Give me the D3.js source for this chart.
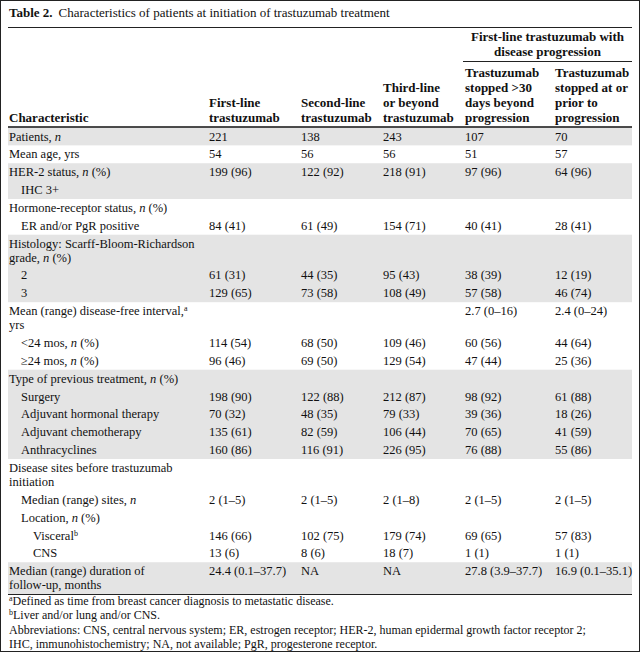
<!DOCTYPE html>
<html>
<head>
<meta charset="utf-8">
<script src="https://cdn.jsdelivr.net/npm/d3@7"></script>
<style>
  body { margin: 0; background: #fff; }
  svg { display: block; }
  text { font-family: "Liberation Serif", "Times New Roman", serif; fill: #111; }
</style>
</head>
<body>
<div id="table"></div>
<script>
var svgWidth = 640;
var svgHeight = 652;

// table content
var titleBold = "Table 2.";
var titleText = "Characteristics of patients at initiation of trastuzumab treatment";
var spannerHead = ["First-line trastuzumab with", "disease progression"];
var columnHeads = [
    ["Characteristic"],
    ["First-line", "trastuzumab"],
    ["Second-line", "trastuzumab"],
    ["Third-line", "or beyond", "trastuzumab"],
    ["Trastuzumab", "stopped >30", "days beyond", "progression"],
    ["Trastuzumab", "stopped at or", "prior to", "progression"]
];
var rowLabels = [
    "Patients, *n*",
    "Mean age, yrs",
    "HER-2 status, *n* (%)",
    "IHC 3+",
    "Hormone-receptor status, *n* (%)",
    "ER and/or PgR positive",
    "Histology: Scarff-Bloom-Richardson|grade, *n* (%)",
    "2",
    "3",
    "Mean (range) disease-free interval,^a^|yrs",
    "<24 mos, *n* (%)",
    "≥24 mos, *n* (%)",
    "Type of previous treatment, *n* (%)",
    "Surgery",
    "Adjuvant hormonal therapy",
    "Adjuvant chemotherapy",
    "Anthracyclines",
    "Disease sites before trastuzumab|initiation",
    "Median (range) sites, *n*",
    "Location, *n* (%)",
    "Visceral^b^",
    "CNS",
    "Median (range) duration of|follow-up, months"
];
var rowIndent = [0,0,0,1,0,1,0,1,1,0,1,1,0,1,1,1,1,0,1,1,2,2,0];
var rowGroup  = [0,1,2,2,3,3,4,4,4,5,5,5,6,6,6,6,6,7,7,7,7,7,8];

var firstLine = ["221","54","199 (96)","","","84 (41)","","61 (31)","129 (65)","","114 (54)","96 (46)","",
    "198 (90)","70 (32)","135 (61)","160 (86)","","2 (1–5)","","146 (66)","13 (6)","24.4 (0.1–37.7)"];
var secondLine = ["138","56","122 (92)","","","61 (49)","","44 (35)","73 (58)","","68 (50)","69 (50)","",
    "122 (88)","48 (35)","82 (59)","116 (91)","","2 (1–5)","","102 (75)","8 (6)","NA"];
var thirdLine = ["243","56","218 (91)","","","154 (71)","","95 (43)","108 (49)","","109 (46)","129 (54)","",
    "212 (87)","79 (33)","106 (44)","226 (95)","","2 (1–8)","","179 (74)","18 (7)","NA"];
var stoppedAfter = ["107","51","97 (96)","","","40 (41)","","38 (39)","57 (58)","2.7 (0–16)","60 (56)","47 (44)","",
    "98 (92)","39 (36)","70 (65)","76 (88)","","2 (1–5)","","69 (65)","1 (1)","27.8 (3.9–37.7)"];
var stoppedBefore = ["70","57","64 (96)","","","28 (41)","","12 (19)","46 (74)","2.4 (0–24)","44 (64)","25 (36)","",
    "61 (88)","18 (26)","41 (59)","55 (86)","","2 (1–5)","","57 (83)","1 (1)","16.9 (0.1–35.1)"];

var footnotes = [
    "^a^Defined as time from breast cancer diagnosis to metastatic disease.",
    "^b^Liver and/or lung and/or CNS.",
    "Abbreviations: CNS, central nervous system; ER, estrogen receptor; HER-2, human epidermal growth factor receptor 2;",
    "IHC, immunohistochemistry; NA, not available; PgR, progesterone receptor."
];

var series = [firstLine, secondLine, thirdLine, stoppedAfter, stoppedBefore];

drawTable();

function drawTable(){
    var svg = d3.select("#table").append("svg")
        .attr("width", svgWidth)
        .attr("height", svgHeight);

    var left = 8, right = 632;
    var fs = 12.5;

    // column positions
    var x = d3.scaleOrdinal()
        .domain(d3.range(6))
        .range([9, 209, 301, 383, 465, 555]);
    var indentX = d3.scaleLinear().domain([0, 2]).range([9, 33]);

    // row layout in units: one row = 18, each extra wrapped line = 14
    var rows = rowLabels.map(function(l, i){
        var lines = l.split("|");
        return {i: i, lines: lines, h: 18 + 14 * (lines.length - 1)};
    });
    var tops = [0].concat(Array.from(d3.cumsum(rows, d => d.h)));
    var total = tops[tops.length - 1];
    var y = d3.scaleLinear().domain([0, total]).range([127.5, 594]);
    rows.forEach(function(r, i){ r.y0 = y(tops[i]); r.y1 = y(tops[i + 1]); });

    // shading by group
    var groups = d3.groups(rows, d => rowGroup[d.i]);
    svg.append("g").selectAll("rect")
        .data(groups.filter(g => g[0] % 2 === 0))
        .enter().append("rect")
        .attr("x", left)
        .attr("width", right - left)
        .attr("y", g => g[1][0].y0)
        .attr("height", g => g[1][g[1].length - 1].y1 - g[1][0].y0)
        .attr("fill", "#e4e4e4");

    // title
    var title = svg.append("text").attr("x", 9).attr("y", 17).style("font-size", "13px");
    title.append("tspan").style("font-weight", "bold").text(titleBold);
    title.append("tspan").attr("dx", 6).text(titleText);
    svg.append("line").attr("x1", left).attr("x2", right).attr("y1", 27.5).attr("y2", 27.5)
        .attr("stroke", "#222").attr("stroke-width", 1);

    // spanner head
    var spanX = (463 + right) / 2;
    svg.append("g").selectAll("text")
        .data(spannerHead).enter().append("text")
        .attr("x", spanX)
        .attr("y", (d, i) => 41 + i * 14.5)
        .attr("text-anchor", "middle")
        .style("font-weight", "bold")
        .style("font-size", "13px")
        .text(d => d);
    svg.append("line").attr("x1", 463).attr("x2", right).attr("y1", 61.5).attr("y2", 61.5)
        .attr("stroke", "#222").attr("stroke-width", 1);

    // column heads, bottom aligned
    var headG = svg.append("g").selectAll("g")
        .data(columnHeads).enter().append("g");
    headG.selectAll("text")
        .data((d, ci) => d.map((t, k) => ({t: t, ci: ci, k: k, n: d.length})))
        .enter().append("text")
        .attr("x", d => x(d.ci))
        .attr("y", d => 121.5 - (d.n - 1 - d.k) * 14.7)
        .style("font-weight", "bold")
        .style("font-size", "13px")
        .text(d => d.t);
    svg.append("line").attr("x1", left).attr("x2", right).attr("y1", 127).attr("y2", 127)
        .attr("stroke", "#111").attr("stroke-width", 1.5);

    // row labels + values
    var rowG = svg.append("g").selectAll("g")
        .data(rows).enter().append("g")
        .attr("transform", d => "translate(0," + d.y0 + ")");
    rowG.each(function(r){
        var g = d3.select(this);
        r.lines.forEach(function(line, k){
            var t = g.append("text")
                .attr("x", indentX(rowIndent[r.i]))
                .attr("y", 13 + k * 13.9)
                .style("font-size", fs + "px");
            richText(t, line);
        });
        series.forEach(function(s, si){
            if (!s[r.i]) return;
            g.append("text")
                .attr("x", x(si + 1))
                .attr("y", 13)
                .style("font-size", fs + "px")
                .text(s[r.i]);
        });
    });

    svg.append("line").attr("x1", left).attr("x2", right).attr("y1", 594.5).attr("y2", 594.5)
        .attr("stroke", "#222").attr("stroke-width", 1);

    // footnotes
    svg.append("g").selectAll("text")
        .data(footnotes).enter().append("text")
        .attr("x", 9)
        .attr("y", (d, i) => 605 + i * 14.3)
        .style("font-size", "12px")
        .each(function(d){ richText(d3.select(this), d); });

    // outer frame
    svg.append("rect").attr("x", 0.5).attr("y", 0.5)
        .attr("width", svgWidth - 1).attr("height", svgHeight - 1)
        .attr("fill", "none").attr("stroke", "#222").attr("stroke-width", 1);
}

// *n* -> italic, ^a^ -> superscript
function richText(t, str){
    var shift = 0;
    str.split(/(\*n\*|\^[ab]\^)/).forEach(function(part){
        if (!part) return;
        var sp;
        if (part === "*n*") {
            sp = t.append("tspan").style("font-style", "italic").text("n");
        } else if (/^\^[ab]\^$/.test(part)) {
            sp = t.append("tspan").style("font-size", "8px").text(part[1]);
            sp.attr("dy", -4 - shift);
            shift = -4;
            return;
        } else {
            sp = t.append("tspan").text(part);
        }
        if (shift) { sp.attr("dy", -shift); shift = 0; }
    });
}
</script>
</body>
</html>
